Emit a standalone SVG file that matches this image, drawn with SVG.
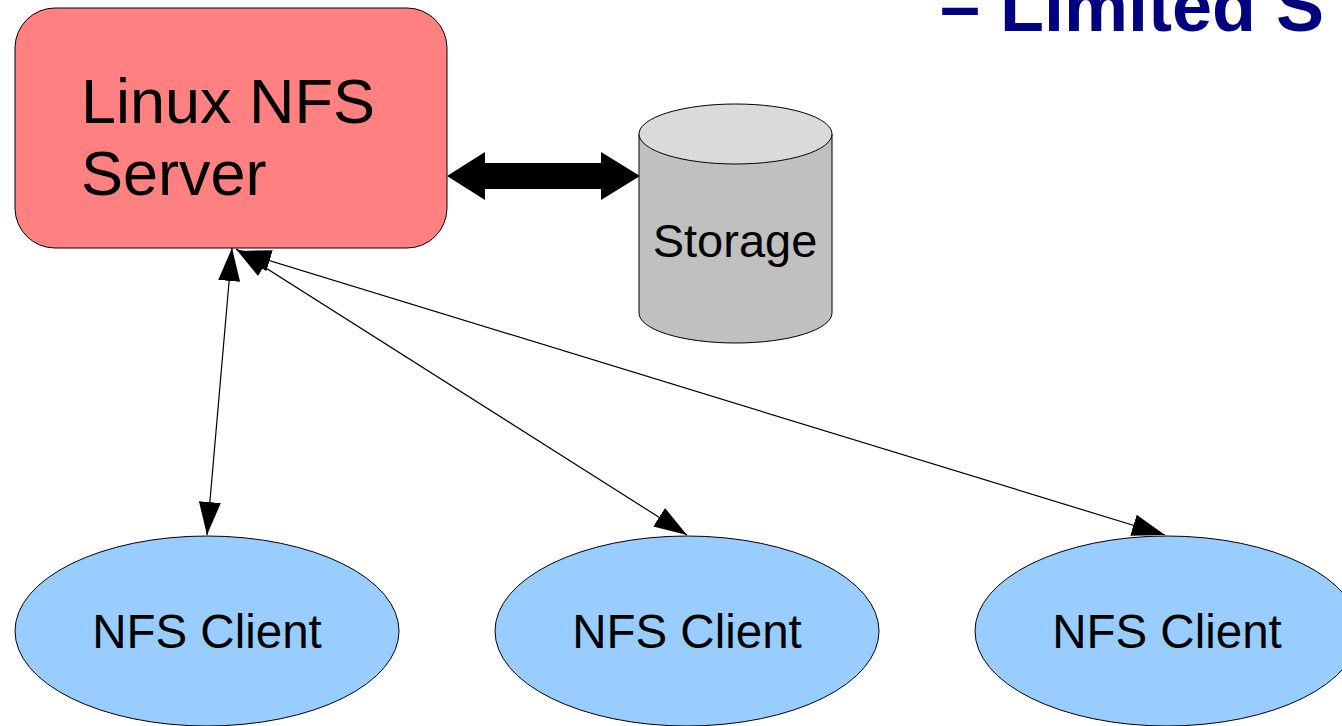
<svg xmlns="http://www.w3.org/2000/svg" width="1342" height="726" viewBox="0 0 1342 726">
<style>
.lbl{font-family:"Liberation Sans",Arial,sans-serif;fill:#000}
.client{fill:#99ccff;stroke:#000;stroke-width:1}
.conn{stroke:#000;stroke-width:1.2;fill:none}
</style>
<defs>
<marker id="ah" markerUnits="userSpaceOnUse" markerWidth="34" markerHeight="24" refX="33" refY="11" orient="auto-start-reverse" viewBox="0 0 34 22">
<path d="M0,0 L33,11 L0,22 z" fill="#000"/>
</marker>
</defs>
<rect width="1342" height="726" fill="#fff"/>
<text class="lbl" x="940" y="31" font-size="72" font-weight="bold" style="fill:#000080">– Limited S</text>
<g id="connectors">
<polygon points="447,176 485,152 485,163 601,163 601,152 640,176 601,200 601,189 485,189 485,200" fill="#000"/>
<line class="conn" x1="232" y1="248" x2="207" y2="535" marker-start="url(#ah)" marker-end="url(#ah)"/>
<line class="conn" x1="236" y1="249" x2="687" y2="535" marker-start="url(#ah)" marker-end="url(#ah)"/>
<line class="conn" x1="238" y1="251" x2="1165" y2="535" marker-start="url(#ah)" marker-end="url(#ah)"/>
</g>
<g id="server">
<rect x="15" y="8" width="432" height="240" rx="40" ry="40" fill="#ff8080" stroke="#000" stroke-width="1"/>
<text class="lbl" x="81" y="123" font-size="63">Linux NFS</text>
<text class="lbl" x="81" y="195" font-size="63">Server</text>
</g>
<g id="storage">
<path d="M639,134 L639,313 A96.5,30 0 0 0 832,313 L832,134 Z" fill="#c0c0c0" stroke="#000" stroke-width="1"/>
<ellipse cx="735.5" cy="134" rx="96.5" ry="30" fill="#dadada" stroke="#000" stroke-width="1"/>
<text class="lbl" x="735" y="257" font-size="47" text-anchor="middle">Storage</text>
</g>
<g id="client1">
<ellipse class="client" cx="207" cy="631" rx="192" ry="95"/>
<text class="lbl" x="207" y="648" font-size="47.5" text-anchor="middle">NFS Client</text>
</g>
<g id="client2">
<ellipse class="client" cx="687" cy="631" rx="192" ry="95"/>
<text class="lbl" x="687" y="648" font-size="47.5" text-anchor="middle">NFS Client</text>
</g>
<g id="client3">
<ellipse class="client" cx="1167" cy="631" rx="192" ry="95"/>
<text class="lbl" x="1167" y="648" font-size="47.5" text-anchor="middle">NFS Client</text>
</g>
</svg>
